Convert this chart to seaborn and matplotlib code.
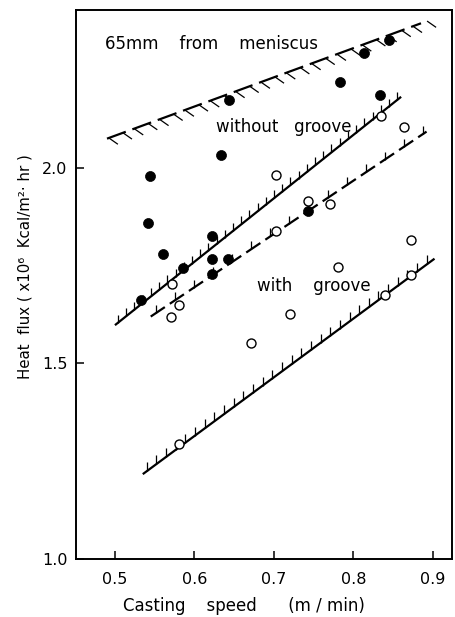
import numpy as np
import pandas as pd
import matplotlib
matplotlib.use("Agg")
import matplotlib.pyplot as plt
import seaborn as sns
from matplotlib.collections import LineCollection

# ---------------- data ----------------
speed_without = [0.845, 0.813, 0.783, 0.833, 0.644, 0.633, 0.544, 0.541, 0.561,
                 0.585, 0.622, 0.622, 0.642, 0.622, 0.743, 0.533]
flux_without = [2.327, 2.294, 2.221, 2.187, 2.174, 2.033, 1.979, 1.858, 1.780,
                1.744, 1.825, 1.768, 1.766, 1.730, 1.891, 1.662]

speed_with = [0.835, 0.864, 0.702, 0.743, 0.771, 0.702, 0.872, 0.781, 0.872,
              0.840, 0.572, 0.581, 0.570, 0.720, 0.671, 0.581]
flux_with = [2.132, 2.106, 1.981, 1.915, 1.907, 1.838, 1.817, 1.747, 1.727,
             1.676, 1.704, 1.650, 1.619, 1.627, 1.552, 1.294]

# band boundary lines (end points)
upper_dashed_x = [0.490, 0.885]
upper_dashed_y = [2.075, 2.370]
lower_dashed_x = [0.545, 0.892]
lower_dashed_y = [1.620, 2.093]
upper_solid_x = [0.500, 0.860]
upper_solid_y = [1.598, 2.182]
lower_solid_x = [0.535, 0.902]
lower_solid_y = [1.217, 1.768]

x_ticks = [0.5, 0.6, 0.7, 0.8, 0.9]
x_tick_labels = ["0.5", "0.6", "0.7", "0.8", "0.9"]
y_ticks = [1.0, 1.5, 2.0]
y_tick_labels = ["1.0", "1.5", "2.0"]

# ---------------- style ----------------
sns.set_style("ticks")
plt.rcParams['font.family'] = ['DejaVu Sans']
plt.rcParams['lines.scale_dashes'] = False

W, H = 455, 617
fig = plt.figure(figsize=(W / 100, H / 100), dpi=100)
L, R, T, B = 76, 452, 10, 559
ax = fig.add_axes([L / W, 1 - B / H, (R - L) / W, (B - T) / H])
ax.set_xlim(0.451, 0.924)
ax.set_ylim(1.0, 2.404)

for s in ax.spines.values():
    s.set_linewidth(1.4)
    s.set_color("black")

df_without = pd.DataFrame({"speed": speed_without, "flux": flux_without})
df_with = pd.DataFrame({"speed": speed_with, "flux": flux_with})

sns.scatterplot(data=df_without, x="speed", y="flux", ax=ax, color="black",
                edgecolor="black", s=52, linewidth=0.5, zorder=5, legend=False)
sns.scatterplot(data=df_with, x="speed", y="flux", ax=ax, facecolor="white",
                edgecolor="black", s=42, linewidth=1.0, zorder=5, legend=False)

# ---------------- hatched boundary lines ----------------
inv = ax.transData.inverted()


def hatched(xs, ys, ticks_angle_deg, tick_len, spacing, dash=None, gap=None,
            tick_fracs=(0.0,), offset=4.0, lw=1.6, tick_lw=0.9):
    p0, p1 = ax.transData.transform(np.column_stack([xs, ys]))
    d = p1 - p0
    length = np.hypot(*d)
    u = d / length
    a = np.deg2rad(ticks_angle_deg)
    tv = np.array([np.cos(a), np.sin(a)]) * tick_len
    segs = []
    if dash is None:
        ax.plot(xs, ys, color="black", lw=lw, solid_capstyle="butt", zorder=3)
        for t in np.arange(offset, length, spacing):
            q = p0 + u * t
            segs.append(inv.transform(np.array([q, q + tv])))
    else:
        period = dash + gap
        ax.plot(xs, ys, color="black", lw=lw, dash_capstyle="butt", zorder=3,
                linestyle=(0, (dash * 0.72, gap * 0.72)))
        for s0 in np.arange(0, length - dash * 0.5, period):
            for f in tick_fracs:
                q = p0 + u * (s0 + f * dash)
                segs.append(inv.transform(np.array([q, q + tv])))
    ax.add_collection(LineCollection(segs, colors="black", linewidths=tick_lw,
                                     zorder=3))


hatched(upper_dashed_x, upper_dashed_y, -35, 11, None, dash=20, gap=7,
        tick_fracs=(0.1, 0.85))
hatched(lower_dashed_x, lower_dashed_y, 90, 8, None, dash=17, gap=6,
        tick_fracs=(0.35,))
hatched(upper_solid_x, upper_solid_y, 90, 8, 10.5, offset=4)
hatched(lower_solid_x, lower_solid_y, 90, 9, 12, offset=5)

# ---------------- text ----------------
txt_kw = dict(fontsize=12, color="black", va="center", ha="left")
ax.text(0.4875, 2.318, "65mm    from    meniscus", **txt_kw)
ax.text(0.6275, 2.105, "without   groove", **txt_kw)
ax.text(0.6788, 1.699, "with    groove", **txt_kw)

ax.set_xticks(x_ticks)
ax.set_xticklabels(x_tick_labels)
ax.set_yticks(y_ticks)
ax.set_yticklabels(y_tick_labels)
ax.tick_params(axis="both", direction="in", length=6, width=1.1,
               labelsize=11.5, colors="black")
ax.tick_params(axis="x", pad=9)
ax.tick_params(axis="y", pad=6)

ax.set_xlabel("Casting    speed      (m / min)", fontsize=12, color="black")
ax.xaxis.set_label_coords((244 - L) / (R - L), -(606 - B) / (B - T))
ax.set_ylabel("Heat  flux ( x10\u2076  Kcal/m\u00b2\u00b7 hr )", fontsize=10.8,
              color="black")
ax.yaxis.set_label_coords(-(L - 25) / (R - L), (B - 267) / (B - T))
ax.xaxis.label.set_va("center")
ax.yaxis.label.set_va("center")

fig.savefig("out.png", dpi=100)
